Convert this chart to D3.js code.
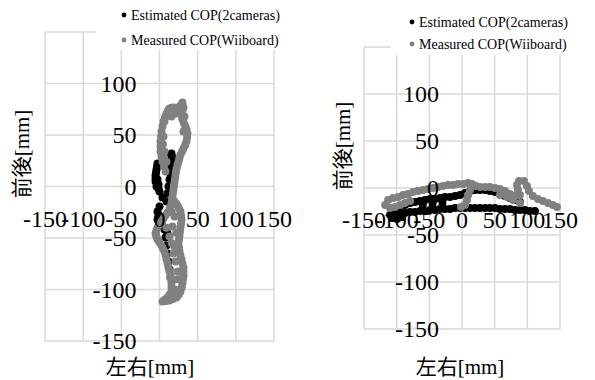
<!DOCTYPE html>
<html>
<head>
<meta charset="utf-8">
<script src="https://cdn.jsdelivr.net/npm/d3@7"></script>
<style>
  body { margin: 0; background: #fff; }
  svg { display: block; }
  text { font-family: "Liberation Serif", "Noto Sans CJK JP", serif; fill: #000; }
</style>
</head>
<body>
<div id="chart"></div>
<script>
// tick values shared by both plots
const xTicks = [-150, -100, -50, 0, 50, 100, 150];
const yTicks = [-150, -100, -50, 0, 50, 100, 150];
const seriesNames = ["Estimated COP(2cameras)", "Measured COP(Wiiboard)"];
const seriesColors = ["#000000", "#808080"];
const xTitle = "左右[mm]";
const yTitle = "前後[mm]";

// left plot, [x, y] in mm
const leftEstimated = [[-2.6,22.3],[-3.2,19.5],[-3.9,16.5],[-4.6,13.5],[-5.2,10.7],[-5.2,7.8],[-5.2,4.9],[-3.9,0],[-1.3,1.9],[-2.6,6.8],[-1.3,-2],
  [15.7,32],[17,28.2],[14.4,30],[15.7,24],[14.4,19.4],[13.8,13],[13.1,6.8],[11.8,0],[10.5,-6.8],[9.2,-14.6],[3.9,-10.7],[0,-4.9],
  [0,-19.4],[-2.6,-24.3],[-1.3,-28],[-2.6,-32],[2.6,-35.9],[6.5,-41.7],[7.9,-49.5],[10.5,-45.6],[9.2,-57.3],[10.5,-65],[11.8,-72.8],[13.1,-80.6],[14.4,-88.3]];
const leftMeasured = [[7.9,14.6],[5.9,19.5],[3.9,24.3],[2.6,29],[1.3,34],[1.3,39],[1.3,43.7],[2,48.5],[2.6,53.4],[3.9,58.3],[5.2,63.1],[7.2,67],[9.2,70.9],[11,73.5],[13.1,75.7],
  [15.7,76.5],[18.3,76.7],[21,76.5],[23.6,75.7],[25.5,77],[27.5,78.6],[30.1,81.6],[31.4,76.7],[30,73.5],[28.8,70.9],[29.5,68],[30.1,65],[32,61.5],[34,58.3],[35.5,55],[36.6,51.5],
  [36.2,47.5],[35.3,43.7],[33.5,40],[31.4,36.9],[29.5,34],[27.5,31.1],[26,27.5],[24.9,24.3],[23.5,21],
  [22.3,17.5],[21.5,14],[20.9,10.7],[20.2,7.3],[19.6,3.9],[18.9,0.5],[18.3,-2.9],[17.6,-6.3],[17,-9.7],[16.3,-13],[15.7,-16.5],
  [15.7,68],[20.9,70.9],[6.5,63.1],[5.2,48.5],[6.5,34],[32.7,68],[31.4,53.4],[9.2,24],[4.5,41],[6,28],
  [14.4,-19.5],[13.1,-22.3],[10.5,-25.3],[7.9,-28.2],[5.2,-31],[2.6,-34],[0,-37],[-2.6,-39.8],[-4,-42.7],[-5.2,-45.6],[-4,-48.5],[-2.6,-51.5],[0,-54.4],[2.6,-57.3],
  [4.5,-60.2],[6.5,-63.1],[8,-67],[9.2,-70.9],[10.5,-74.8],[11.8,-78.6],[13.1,-82.5],[14.4,-86.4],[15,-90.3],[15.7,-94.2],[15.7,-98],
  [15.7,-101.9],[13.1,-105],[10.5,-107.8],[7.2,-109.8],[3.9,-111.7],[8.5,-111.2],[13.1,-110.7],[17.7,-109.2],[22.3,-107.8],[25,-105],[27.5,-101.9],[29,-98],[30.1,-94.2],
  [30.8,-90.3],[31.4,-86.4],[31.4,-82.5],[31.4,-78.6],[30,-74.8],[28.8,-70.9],[27.5,-67],[26.2,-63.1],[25.5,-59.2],
  [24.9,-55.3],[25.5,-51.5],[26.2,-47.6],[26.8,-43.7],[27.5,-39.8],[28.2,-35.9],[28.8,-32],[28.2,-28.2],[27.5,-24.3],[25.5,-21.4],[23.6,-18.4],[21.6,-16.5],[19.6,-14.6],
  [19.6,-29.1],[17,-38.8],[13.1,-48.5],[19.6,-58.3],[20.9,-72.8],[23.6,-82.5],[18.3,-65],[9.2,-40],[16,-55],[22,-45],[24,-90],[20,-100],[16,-25]];

// right plot, [x, y] in mm
const rightEstimated = [[-107,-25.5],[-100.9,-22.3],[-94.8,-20.2],[-87.2,-18.1],[-79.5,-16],[-71.9,-14.9],[-64.2,-13.8],[-56.6,-12.8],[-48.9,-11.7],
  [-41.3,-11.7],[-33.6,-10.6],[-26,-9.6],[-18.3,-9.6],[-10.7,-8.5],[-3.1,-7.4],[4.6,-5.3],[12.2,-3.2],[19.9,-2.1],[27.5,-2.1],[35.2,-2.1],[42.8,-3.2],
  [50.5,-4.3],[58.1,-6.4],[65.7,-8.5],[73.4,-10.6],[81,-12.8],[88.7,-14.9],
  [-102.4,-29.8],[-94.8,-27.7],[-87.2,-26.6],[-79.5,-25.5],[-71.9,-25.5],[-64.2,-24.5],[-56.6,-24.5],[-48.9,-23.4],[-41.3,-23.4],[-33.6,-22.3],
  [-26,-22.3],[-18.3,-22.3],[-10.7,-21.3],[-3.1,-21.3],[4.6,-21.3],[12.2,-21.3],[19.9,-21.3],[27.5,-21.3],[35.2,-21.3],[42.8,-21.3],[50.5,-21.3],
  [58.1,-22.3],[65.7,-22.3],[73.4,-22.3],[81,-23.4],[88.7,-23.4],[96.3,-23.4],[104,-24.5],[111.6,-24.5],
  [-110.1,-28.7],[-107,-31.9],[-99.4,-33],[-91.7,-30.9],[-60,-18],[-45,-17],[-30,-16]];
const rightMeasured = [[-117.7,-18.1],[-113.1,-12.8],[-105.5,-10.6],[-97.9,-9.6],[-90.2,-7.4],[-82.6,-6.4],[-74.9,-4.3],[-67.3,-3.2],[-59.6,-2.1],
  [-52,-1.1],[-44.3,0],[-36.7,1.1],[-29.1,2.1],[-21.4,3.2],[-13.8,3.2],[-6.1,4.3],[1.5,4.3],[9.2,5.3],[15.3,4.3],[21.4,2.1],[27.5,1.1],[35.2,1.1],
  [42.8,1.1],[50.5,0],[58.1,-1.1],[65.7,-3.2],[73.4,-6.4],[81,-8.5],[88.7,-7.4],[85.6,-2.1],[84.1,3.2],[87.2,7.4],[94.8,7.4],[99.4,2.1],[102.4,-3.2],
  [108.6,-8.5],[116.2,-11.7],[123.9,-13.8],[131.5,-16],[139.1,-18.1],[145.3,-20.2],
  [-110.1,-21.3],[-102.4,-20.2],[-94.8,-18.1],[-87.2,-16],[-79.5,-13.8],
  [12.2,-2.1],[9.2,-7.4],[7.6,-12.8],[4.6,-18.1],[-1.5,-20.2],
  [58.1,-7.4],[68.8,-9.6],[78,-12.8],[88.7,-16]];

const width = 595, height = 380;
const svg = d3.select("#chart").append("svg")
    .attr("width", width)
    .attr("height", height);

function drawPlot(cfg) {
    const x = d3.scaleLinear().domain([-150, 150]).range([cfg.left, cfg.right]);
    const y = d3.scaleLinear().domain([-150, 150]).range([cfg.bottom, cfg.top]);
    const g = svg.append("g");

    // grid
    g.append("g").selectAll("line").data(xTicks).enter().append("line")
        .attr("x1", d => x(d)).attr("x2", d => x(d))
        .attr("y1", cfg.top).attr("y2", cfg.bottom)
        .attr("stroke", "#d9d9d9").attr("stroke-width", 1.5);
    g.append("g").selectAll("line").data(yTicks).enter().append("line")
        .attr("x1", cfg.left).attr("x2", cfg.right)
        .attr("y1", d => y(d)).attr("y2", d => y(d))
        .attr("stroke", "#d9d9d9").attr("stroke-width", 1.5);

    // points, measured on top
    const series = [cfg.estimated, cfg.measured];
    series.forEach(function (pts, i) {
        g.append("g").selectAll("circle").data(pts).enter().append("circle")
            .attr("cx", d => x(d[0]))
            .attr("cy", d => y(d[1]))
            .attr("r", 4)
            .attr("fill", seriesColors[i]);
    });

    // tick labels next to the axes through zero
    g.append("g").selectAll("text").data(xTicks).enter().append("text")
        .attr("x", d => x(d))
        .attr("y", y(0) + 32)
        .attr("dy", "0.35em")
        .attr("text-anchor", "middle")
        .attr("font-size", 24)
        .text(d => String(d));
    g.append("g").selectAll("text").data(yTicks).enter().append("text")
        .attr("x", x(0) - 23)
        .attr("y", d => y(d))
        .attr("dy", "0.35em")
        .attr("text-anchor", "end")
        .attr("font-size", 24)
        .text(d => String(d));

    // legend covers the top of the grid and the top tick label
    g.append("rect")
        .attr("x", cfg.legendX).attr("y", 0)
        .attr("width", width - cfg.legendX).attr("height", cfg.legendH)
        .attr("fill", "#fff");
    seriesNames.forEach(function (name, i) {
        const ly = cfg.legendY + i * cfg.legendGap;
        g.append("circle")
            .attr("cx", cfg.legendMarkX).attr("cy", ly).attr("r", 2.4)
            .attr("fill", seriesColors[i]);
        g.append("text")
            .attr("x", cfg.legendMarkX + 7).attr("y", ly)
            .attr("dy", "0.35em")
            .attr("font-size", 14)
            .text(name);
    });

    // axis titles
    g.append("text")
        .attr("x", cfg.xTitleX).attr("y", 367)
        .attr("dy", "0.35em")
        .attr("text-anchor", "middle")
        .attr("font-size", 21)
        .text(xTitle);
    g.append("text")
        .attr("transform", "translate(" + cfg.yTitleX + "," + cfg.yTitleY + ") rotate(-90)")
        .attr("dy", "0.35em")
        .attr("text-anchor", "middle")
        .attr("font-size", 21)
        .text(yTitle);
}

drawPlot({
    left: 45, right: 274, top: 32, bottom: 341,
    estimated: leftEstimated, measured: leftMeasured,
    legendX: 96, legendH: 50, legendMarkX: 124, legendY: 15, legendGap: 25,
    xTitleX: 150, yTitleX: 22, yTitleY: 154
});
drawPlot({
    left: 364, right: 560, top: 47, bottom: 329,
    estimated: rightEstimated, measured: rightMeasured,
    legendX: 391, legendH: 55, legendMarkX: 412, legendY: 22, legendGap: 22,
    xTitleX: 460, yTitleX: 343, yTitleY: 146
});
</script>
</body>
</html>
